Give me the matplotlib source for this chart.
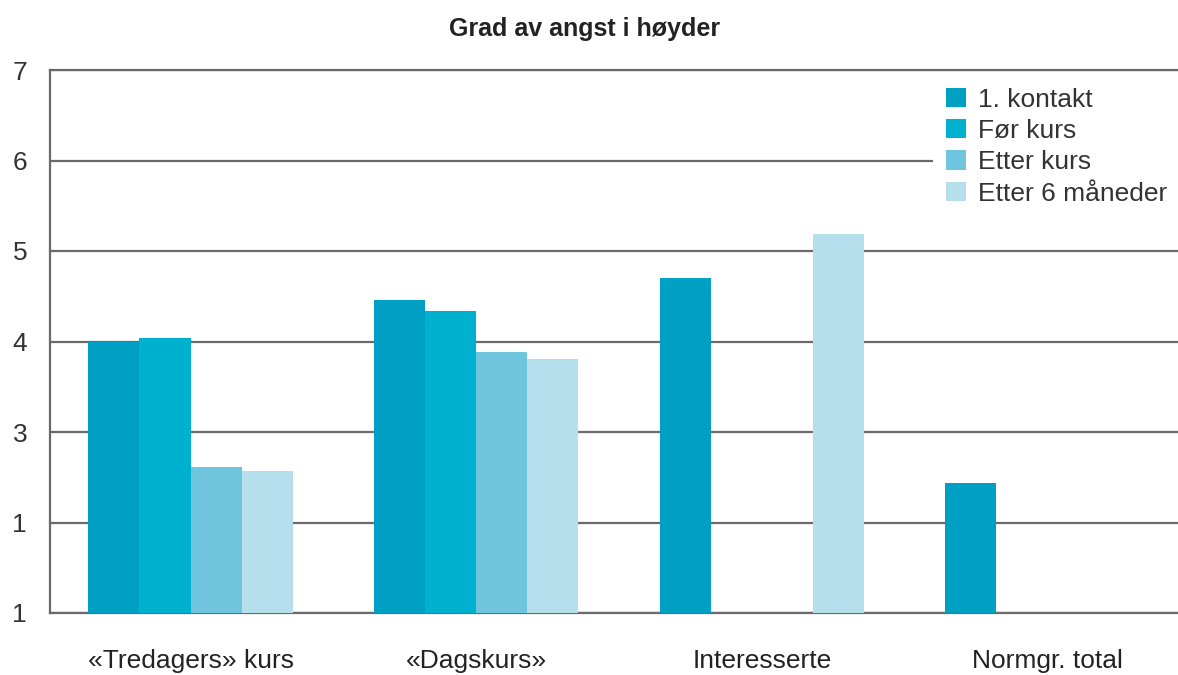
import numpy as np
import matplotlib.pyplot as plt

categories = ['«Tredagers» kurs', '«Dagskurs»', 'Interesserte', 'Normgr. total']
series_names = ['1. kontakt', 'Før kurs', 'Etter kurs', 'Etter 6 måneder']
kontakt = [3.99, 4.46, 4.70, 2.44]
for_kurs = [4.04, 4.34, np.nan, np.nan]
etter_kurs = [2.61, 3.88, np.nan, np.nan]
etter_6 = [2.57, 3.81, 5.19, np.nan]
yticks = [1, 2, 3, 4, 5, 6, 7]
ytick_labels = ['1', '1', '3', '4', '5', '6', '7']

colors = ['#00a0c4', '#00b1cf', '#6fc5dd', '#b6dfed']
values = [kontakt, for_kurs, etter_kurs, etter_6]

plt.rcParams['font.family'] = ['Liberation Sans Narrow', 'Liberation Sans', 'DejaVu Sans']

fig = plt.figure(figsize=(11.78, 6.75), dpi=100)
ax = fig.add_axes([50/1178, 1-613/675, 1128/1178, 543/675])

x = np.arange(len(categories))
w = 0.179
for i, (vals, name, c) in enumerate(zip(values, series_names, colors)):
    ax.bar(x + (i - 1.5) * w, vals, width=w, color=c, label=name, zorder=3)

ax.set_xlim(-0.492, 3.457)
ax.set_ylim(1, 7)
ax.set_yticks(yticks)
ax.set_yticklabels(ytick_labels)
ax.yaxis.grid(True, color='#6a6a6a', linewidth=1.6, zorder=1)
ax.set_axisbelow(True)
ax.set_xticks(x)
ax.set_xticklabels(categories)
ax.tick_params(axis='x', length=0, pad=26, labelsize=19, colors='#222222')
ax.tick_params(axis='y', length=0, pad=27, labelsize=19, colors='#333333')
for t in ax.get_yticklabels():
    t.set_horizontalalignment('left')

ax.spines['right'].set_visible(False)
for s in ['left', 'bottom', 'top']:
    ax.spines[s].set_color('#6a6a6a')
    ax.spines[s].set_linewidth(1.6)

leg = ax.legend(loc='upper right', bbox_to_anchor=(1.002, 0.992), frameon=True,
                fontsize=19, handlelength=0.75, handleheight=0.75, handletextpad=0.45,
                labelspacing=0.28, borderpad=0.5, borderaxespad=0)
leg.get_frame().set_facecolor('white')
leg.get_frame().set_edgecolor('none')
leg.get_frame().set_alpha(1)
leg.set_zorder(5)
for t in leg.get_texts():
    t.set_color('#333333')

fig.text(585/1178, 1-29/675, 'Grad av angst i høyder', ha='center', va='center',
         fontsize=18, fontweight='bold', color='#222222')

plt.savefig('out.png', dpi=100)
